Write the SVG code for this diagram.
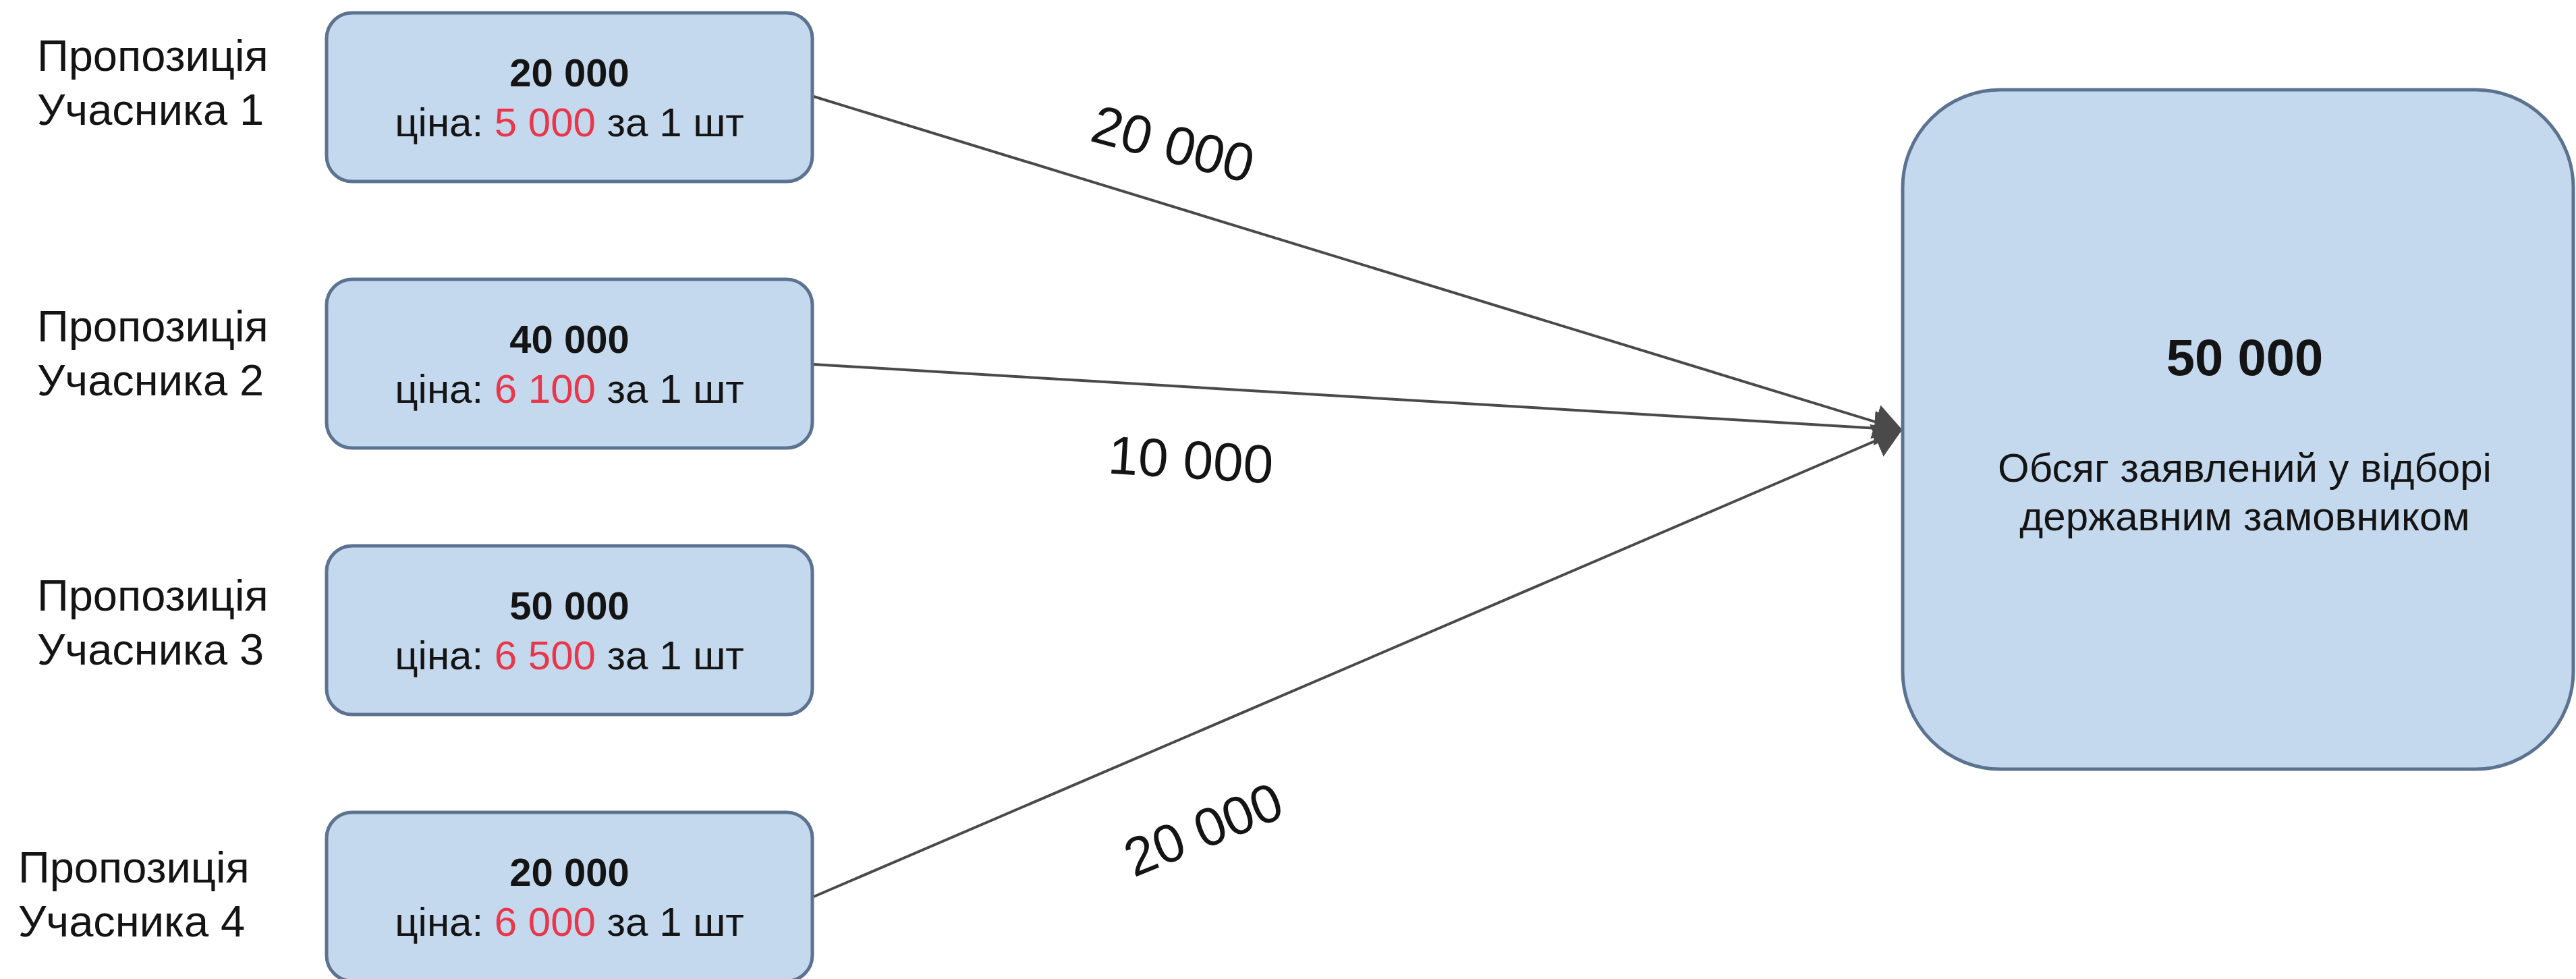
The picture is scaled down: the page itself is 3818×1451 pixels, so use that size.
<svg xmlns="http://www.w3.org/2000/svg" width="3818" height="1451" viewBox="0 0 3818 1451">
<style>
.box{fill:#c5d9ee;stroke:#5b7390;stroke-width:5}
.t{font-family:"Liberation Sans",Arial,sans-serif;fill:#141414}
.lbl{font-size:65px}
.b{font-size:58px;font-weight:bold;text-anchor:middle}
.p{font-size:60px;text-anchor:middle}
.red{fill:#e8364a}
.edge{fill:none;stroke:#4a4a4a;stroke-width:4}
.el{font-size:80px;text-anchor:middle}
</style>
<defs>
<marker id="arr" viewBox="0 0 42 52" refX="40" refY="26" markerWidth="42" markerHeight="52" markerUnits="userSpaceOnUse" orient="auto">
<path d="M0,0 L42,26 L0,52 Z" fill="#4a4a4a"/>
</marker>
</defs>
<rect width="3818" height="1451" fill="#ffffff"/>
<g id="connectors">
<line class="edge" x1="1206" y1="143" x2="2818" y2="637" marker-end="url(#arr)"/>
<line class="edge" x1="1206" y1="540" x2="2818" y2="637" marker-end="url(#arr)"/>
<line class="edge" x1="1206" y1="1329" x2="2818" y2="637" marker-end="url(#arr)"/>
<text class="t el" transform="translate(1739,212) rotate(15)" y="29">20 000</text>
<text class="t el" transform="translate(1765,680) rotate(3.5)" y="29">10 000</text>
<text class="t el" transform="translate(1783,1228) rotate(-22)" y="29">20 000</text>
</g>
<g id="label1"><text class="t lbl" x="55" y="105">Пропозиція</text><text class="t lbl" x="55" y="185">Учасника 1</text></g>
<g id="label2"><text class="t lbl" x="55" y="506">Пропозиція</text><text class="t lbl" x="55" y="586">Учасника 2</text></g>
<g id="label3"><text class="t lbl" x="55" y="905">Пропозиція</text><text class="t lbl" x="55" y="985">Учасника 3</text></g>
<g id="label4"><text class="t lbl" x="27" y="1308">Пропозиція</text><text class="t lbl" x="27" y="1388">Учасника 4</text></g>
<g id="node1">
<rect class="box" x="484" y="19" width="720" height="250" rx="38"/>
<text class="t b" x="844" y="128">20 000</text>
<text class="t p" x="844" y="202">ціна: <tspan class="red">5 000</tspan> за 1 шт</text>
</g>
<g id="node2">
<rect class="box" x="484" y="414" width="720" height="250" rx="38"/>
<text class="t b" x="844" y="523">40 000</text>
<text class="t p" x="844" y="597">ціна: <tspan class="red">6 100</tspan> за 1 шт</text>
</g>
<g id="node3">
<rect class="box" x="484" y="809" width="720" height="250" rx="38"/>
<text class="t b" x="844" y="918">50 000</text>
<text class="t p" x="844" y="992">ціна: <tspan class="red">6 500</tspan> за 1 шт</text>
</g>
<g id="node4">
<rect class="box" x="484" y="1204" width="720" height="250" rx="38"/>
<text class="t b" x="844" y="1313">20 000</text>
<text class="t p" x="844" y="1387">ціна: <tspan class="red">6 000</tspan> за 1 шт</text>
</g>
<g id="target">
<rect class="box" x="2820" y="133" width="994" height="1007" rx="145"/>
<text class="t" x="3327" y="556" font-size="76" font-weight="bold" text-anchor="middle">50 000</text>
<text class="t p" x="3327" y="714">Обсяг заявлений у відборі</text>
<text class="t p" x="3327" y="786">державним замовником</text>
</g>
</svg>
